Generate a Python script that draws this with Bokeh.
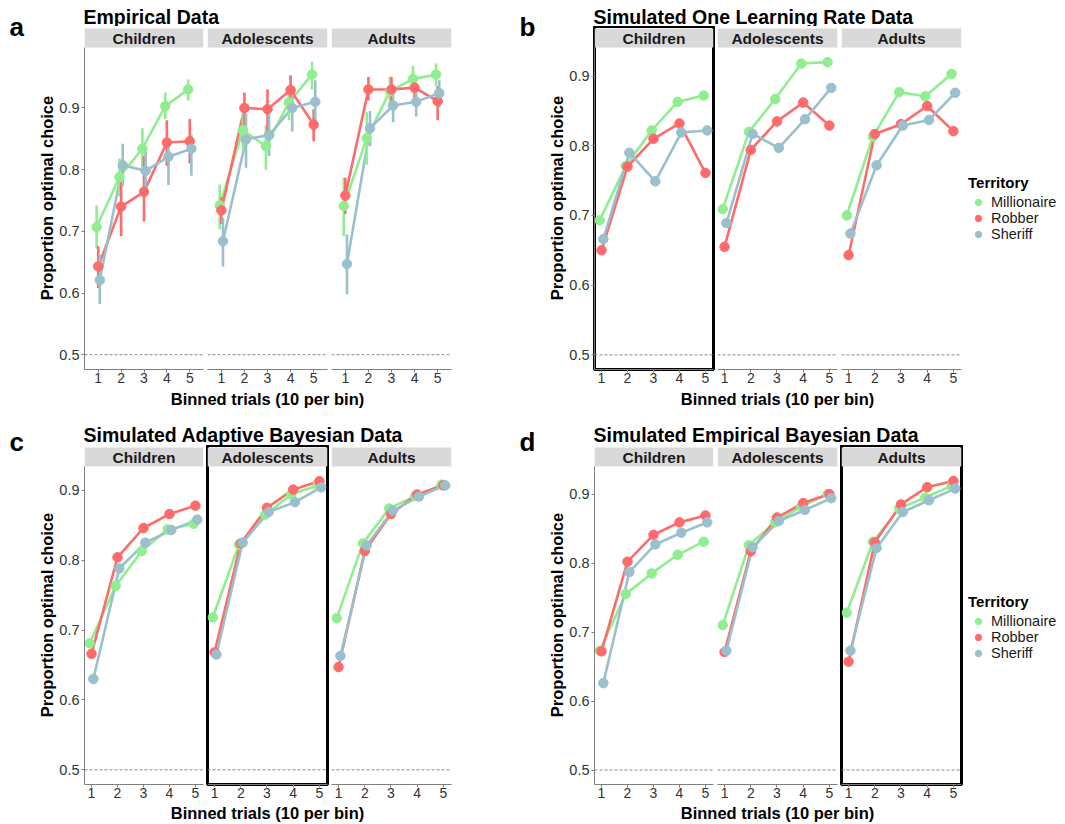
from bokeh.plotting import figure
from bokeh.layouts import row, column
from bokeh.models import (ColumnDataSource, Range1d, FixedTicker, Span,
                          BoxAnnotation, Label, Legend, LegendItem)
from bokeh.transform import dodge
from bokeh.embed import file_html
from bokeh.resources import INLINE

FONT = "Liberation Sans"

# ---------------- data ----------------
bins = [1, 2, 3, 4, 5]
age_groups = ["Children", "Adolescents", "Adults"]
territories = ["Millionaire", "Robber", "Sheriff"]
territory_colors = ["#90EE90", "#FF6A6A", "#9AC0CD"]
y_ticks = [0.5, 0.6, 0.7, 0.8, 0.9]

# a: Empirical data (means and interval limits)
a_children = {"Millionaire": [0.707, 0.788, 0.834, 0.903, 0.930],
              "Robber":      [0.643, 0.740, 0.764, 0.844, 0.846],
              "Sheriff":     [0.621, 0.807, 0.798, 0.821, 0.834]}
a_children_lo = {"Millionaire": [0.672, 0.757, 0.800, 0.882, 0.912],
                 "Robber":      [0.608, 0.692, 0.716, 0.806, 0.810],
                 "Sheriff":     [0.582, 0.773, 0.765, 0.775, 0.790]}
a_children_hi = {"Millionaire": [0.742, 0.818, 0.867, 0.925, 0.946],
                 "Robber":      [0.676, 0.788, 0.822, 0.880, 0.882],
                 "Sheriff":     [0.662, 0.842, 0.830, 0.850, 0.857]}
a_adolescents = {"Millionaire": [0.742, 0.864, 0.838, 0.909, 0.954],
                 "Robber":      [0.734, 0.900, 0.898, 0.929, 0.873],
                 "Sheriff":     [0.684, 0.849, 0.856, 0.900, 0.910]}
a_adolescents_lo = {"Millionaire": [0.703, 0.832, 0.800, 0.880, 0.930],
                    "Robber":      [0.712, 0.868, 0.862, 0.900, 0.846],
                    "Sheriff":     [0.643, 0.803, 0.822, 0.862, 0.872]}
a_adolescents_hi = {"Millionaire": [0.776, 0.893, 0.872, 0.937, 0.975],
                    "Robber":      [0.755, 0.925, 0.930, 0.953, 0.898],
                    "Sheriff":     [0.722, 0.890, 0.890, 0.935, 0.945]}
a_adults = {"Millionaire": [0.741, 0.851, 0.927, 0.947, 0.954],
            "Robber":      [0.758, 0.930, 0.930, 0.933, 0.911],
            "Sheriff":     [0.647, 0.867, 0.904, 0.910, 0.924]}
a_adults_lo = {"Millionaire": [0.692, 0.808, 0.900, 0.925, 0.935],
               "Robber":      [0.728, 0.912, 0.910, 0.912, 0.880],
               "Sheriff":     [0.598, 0.838, 0.877, 0.886, 0.900]}
a_adults_hi = {"Millionaire": [0.787, 0.893, 0.951, 0.968, 0.972],
               "Robber":      [0.787, 0.950, 0.950, 0.952, 0.935],
               "Sheriff":     [0.695, 0.895, 0.930, 0.935, 0.945]}

# b: Simulated One Learning Rate Data
b_children = {"Millionaire": [0.693, 0.771, 0.822, 0.863, 0.872],
              "Robber":      [0.650, 0.770, 0.810, 0.832, 0.761],
              "Sheriff":     [0.666, 0.790, 0.749, 0.819, 0.822]}
b_adolescents = {"Millionaire": [0.709, 0.820, 0.867, 0.918, 0.920],
                 "Robber":      [0.655, 0.794, 0.835, 0.862, 0.829],
                 "Sheriff":     [0.689, 0.817, 0.797, 0.838, 0.883]}
b_adults = {"Millionaire": [0.700, 0.813, 0.877, 0.871, 0.903],
            "Robber":      [0.643, 0.817, 0.831, 0.857, 0.821],
            "Sheriff":     [0.674, 0.772, 0.829, 0.837, 0.876]}

# c: Simulated Adaptive Bayesian Data
c_children = {"Millionaire": [0.681, 0.763, 0.813, 0.844, 0.852],
              "Robber":      [0.666, 0.804, 0.846, 0.866, 0.878],
              "Sheriff":     [0.630, 0.788, 0.825, 0.843, 0.858]}
c_adolescents = {"Millionaire": [0.718, 0.822, 0.865, 0.894, 0.907],
                 "Robber":      [0.668, 0.824, 0.875, 0.901, 0.913],
                 "Sheriff":     [0.665, 0.825, 0.869, 0.883, 0.904]}
c_adults = {"Millionaire": [0.717, 0.824, 0.874, 0.892, 0.908],
            "Robber":      [0.647, 0.813, 0.866, 0.894, 0.907],
            "Sheriff":     [0.663, 0.821, 0.871, 0.891, 0.907]}

# d: Simulated Empirical Bayesian Data
d_children = {"Millionaire": [0.673, 0.755, 0.785, 0.812, 0.831],
              "Robber":      [0.672, 0.802, 0.841, 0.859, 0.869],
              "Sheriff":     [0.626, 0.787, 0.827, 0.844, 0.859]}
d_adolescents = {"Millionaire": [0.710, 0.826, 0.859, 0.882, 0.900],
                 "Robber":      [0.671, 0.817, 0.866, 0.887, 0.900],
                 "Sheriff":     [0.673, 0.823, 0.861, 0.877, 0.894]}
d_adults = {"Millionaire": [0.728, 0.831, 0.879, 0.895, 0.912],
            "Robber":      [0.657, 0.830, 0.885, 0.910, 0.919],
            "Sheriff":     [0.673, 0.822, 0.874, 0.891, 0.908]}

panel_letters = ["a", "b", "c", "d"]
panel_titles = ["Empirical Data", "Simulated One Learning Rate Data",
                "Simulated Adaptive Bayesian Data", "Simulated Empirical Bayesian Data"]
legend_title = "Territory"
x_title = "Binned trials (10 per bin)"
y_title = "Proportion optimal choice"

# ---------------- styling ----------------
AXIS_COL = "#7f7f7f"
TICK_TXT = "#333333"
STRIP_COL = "#D9D9D9"
DODGE = {"Millionaire": -0.07, "Robber": 0.0, "Sheriff": 0.07}
FACET_W = 120
GUTTER_W = 35
LEFT_B = 48
BOTTOM_B = 19
BAND = 2
STRIP_H = 19
LEGEND_W = 102


def bare_fig(w, h):
    p = figure(width=w, height=h, x_range=Range1d(0, w), y_range=Range1d(0, h),
               title=None, min_border=0, toolbar_location=None, output_backend="svg",
               x_axis_location=None, y_axis_location=None, outline_line_color=None)
    p.grid.visible = False
    return p


def facet_fig(age, k, means, los, his, xr, yr, plot_h, right_b, highlight):
    ylo, yhi = yr
    kpx = (yhi - ylo) / plot_h
    yend = yhi + (STRIP_H + BAND) * kpx
    lb = LEFT_B if k == 0 else 2
    p = figure(width=lb + FACET_W + right_b, height=plot_h + STRIP_H + BAND + BOTTOM_B,
               title=None, x_range=Range1d(*xr), y_range=Range1d(ylo, yend),
               min_border_left=lb, min_border_right=right_b,
               min_border_top=0, min_border_bottom=BOTTOM_B,
               toolbar_location=None, output_backend="svg",
               y_axis_location="left" if k == 0 else None)
    p.grid.visible = False
    p.outline_line_color = "black" if highlight else None
    p.outline_line_width = 3

    # facet strip
    p.add_layout(BoxAnnotation(bottom=yhi, top=yhi + STRIP_H * kpx, fill_color=STRIP_COL,
                               fill_alpha=1, line_color=None, level="underlay"))
    p.add_layout(Label(x=(xr[0] + xr[1]) / 2, y=yhi + STRIP_H * kpx / 2, text=age,
                       text_align="center", text_baseline="middle", text_font=FONT,
                       text_font_size="15.5px", text_font_style="bold", text_color="#1a1a1a"))
    # chance line
    p.add_layout(Span(location=0.5, dimension="width", line_color="#8a8a8a",
                      line_dash="3 2", line_width=1, level="underlay"))

    xa = p.xaxis[0]
    xa.ticker = FixedTicker(ticks=bins)
    xa.major_label_text_font = FONT
    xa.major_label_text_font_size = "14px"
    xa.major_label_text_color = TICK_TXT
    xa.major_label_standoff = 0
    xa.major_tick_out = 3
    xa.major_tick_in = 0
    xa.minor_tick_line_color = None
    xa.axis_line_color = AXIS_COL
    xa.major_tick_line_color = AXIS_COL
    if k == 0:
        ya = p.yaxis[0]
        ya.ticker = FixedTicker(ticks=y_ticks)
        ya.bounds = (ylo, yhi)
        ya.major_label_text_font = FONT
        ya.major_label_text_font_size = "14.5px"
        ya.major_label_text_color = TICK_TXT
        ya.major_label_standoff = 2
        ya.major_tick_out = 3
        ya.major_tick_in = 0
        ya.minor_tick_line_color = None
        ya.axis_line_color = AXIS_COL
        ya.major_tick_line_color = AXIS_COL
        ya.axis_label = y_title
        ya.axis_label_text_font = FONT
        ya.axis_label_text_font_size = "16.5px"
        ya.axis_label_text_font_style = "bold"
        ya.axis_label_text_color = "black"
        ya.axis_label_standoff = 0

    srcs = {}
    for t in territories:
        d = dict(x=bins, y=means[t])
        if los is not None:
            d["lo"] = los[t]
            d["hi"] = his[t]
        srcs[t] = ColumnDataSource(d)
    for t, c in zip(territories, territory_colors):
        p.line(x=dodge("x", DODGE[t]), y="y", source=srcs[t], line_color=c, line_width=2.6)
    if los is not None:
        for t, c in zip(territories, territory_colors):
            p.segment(x0=dodge("x", DODGE[t]), y0="lo", x1=dodge("x", DODGE[t]), y1="hi",
                      source=srcs[t], line_color=c, line_width=2.6)
    for t, c in zip(territories, territory_colors):
        p.scatter(x=dodge("x", DODGE[t]), y="y", source=srcs[t], size=9.5,
                  fill_color=c, line_color=c)
    return p


def legend_fig(means, height):
    p = figure(width=LEGEND_W, height=height, x_range=Range1d(0, 1), y_range=Range1d(0, 1),
               title=None, min_border=0, toolbar_location=None, output_backend="svg",
               x_axis_location=None, y_axis_location=None, outline_line_color=None)
    p.grid.visible = False
    items = []
    for t, c in zip(territories, territory_colors):
        # legend key renderer (hidden; only its key is shown in the legend)
        r = p.scatter(x=bins, y=means[t], size=9.5, fill_color=c, line_color=c, visible=False)
        items.append(LegendItem(label=t, renderers=[r]))
    leg = Legend(items=items, title=legend_title, location=(5, height - 235),
                 orientation="vertical",
                 title_text_font=FONT, title_text_font_size="15px",
                 title_text_font_style="bold", title_text_color="black",
                 title_standoff=3,
                 label_text_font=FONT, label_text_font_size="14.5px",
                 label_text_color="#1a1a1a", glyph_width=20, glyph_height=16,
                 label_standoff=3, spacing=0, padding=0, margin=0,
                 inactive_fill_alpha=0, click_policy="none",
                 border_line_color=None, background_fill_alpha=0)
    p.add_layout(leg, "center")
    return p


def panel(idx, facets_data, xr, yr, plot_h, header_h, xlabel_h, letter_y, title_y,
          xlabel_y, last_rb, highlight_k, with_legend):
    figs = []
    for k, age in enumerate(age_groups):
        means, los, his = facets_data[k]
        rb = last_rb if k == 2 else 2
        figs.append(facet_fig(age, k, means, los, his, xr, yr, plot_h, rb, highlight_k == k))
    fig_h = figs[0].height
    if with_legend:
        figs.append(legend_fig(facets_data[2][0], fig_h))
    block_w = sum(f.width for f in figs)
    gutter_h = header_h + fig_h + xlabel_h
    gut = bare_fig(GUTTER_W, gutter_h)
    gut.add_layout(Label(x=9, y=letter_y, text=panel_letters[idx], text_font=FONT,
                         text_font_size="26px", text_font_style="bold", text_color="black",
                         text_baseline="middle"))
    head = bare_fig(block_w, header_h)
    head.add_layout(Label(x=LEFT_B, y=title_y, text=panel_titles[idx], text_font=FONT,
                          text_font_size="19.5px", text_font_style="bold", text_color="black",
                          text_baseline="middle"))
    xl = bare_fig(block_w, xlabel_h)
    xl.add_layout(Label(x=LEFT_B + (3 * FACET_W + 8) / 2, y=xlabel_y, text=x_title,
                        text_font=FONT, text_font_size="16.5px", text_font_style="bold",
                        text_color="black", text_align="center", text_baseline="middle"))
    return row(gut, column(head, row(*figs), xl))


# top half: 26 + 362 + 27 = 415 px ; bottom half: 30 + 358 + 21 = 409 px
pa = panel(0, [(a_children, a_children_lo, a_children_hi),
               (a_adolescents, a_adolescents_lo, a_adolescents_hi),
               (a_adults, a_adults_lo, a_adults_hi)],
           (0.4, 5.6), (0.476, 0.998), 322, 26, 27, 389, 10, 16.4, 59, None, False)
pb = panel(1, [(b_children, None, None), (b_adolescents, None, None), (b_adults, None, None)],
           (0.73, 5.31), (0.479, 0.941), 322, 26, 27, 389, 10, 16.4, 2, 0, True)
pc = panel(2, [(c_children, None, None), (c_adolescents, None, None), (c_adults, None, None)],
           (0.73, 5.31), (0.479, 0.934), 318, 30, 21, 383, 10.3, 11.5, 59, 1, False)
pd_ = panel(3, [(d_children, None, None), (d_adolescents, None, None), (d_adults, None, None)],
            (0.73, 5.31), (0.479, 0.940), 318, 30, 21, 383, 10.3, 11.5, 2, 2, True)

page = column(row(pa, pb), row(pc, pd_))
open("out.html", "w").write(file_html(page, INLINE))
